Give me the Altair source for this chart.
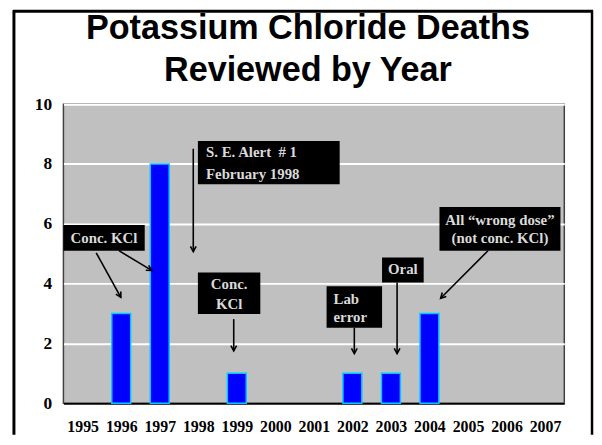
import altair as alt
import pandas as pd
import math

# ---- data ----
years = list(range(1995, 2008))
deaths = [0, 3, 8, 0, 1, 0, 0, 1, 1, 3, 0, 0, 0]

# annotation boxes (data units)
box_x0 = [1994.5, 1997.99, 1997.99, 2001.33, 2002.77, 2004.26]
box_x1 = [1996.61, 2001.67, 1999.61, 2002.77, 2003.85, 2007.40]
box_y0 = [5.10, 7.32, 2.98, 2.52, 4.04, 5.10]
box_y1 = [5.96, 8.77, 4.37, 3.91, 4.87, 6.56]

# annotation texts
txt_text = ["Conc. KCl", "S. E. Alert\u00a0\u00a0# 1", "February 1998", "Conc.", "KCl",
            "Lab", "error", "Oral", "All \u201cwrong dose\u201d", "(not conc. KCl)"]
txt_x = [1995.55, 1998.20, 1998.20, 1998.80, 1998.80, 2001.51, 2001.51, 2003.31, 2005.83, 2005.83]
txt_y = [5.53, 8.41, 7.68, 3.97, 3.31, 3.48, 2.88, 4.47, 6.13, 5.53]
txt_align = ["center", "left", "left", "center", "center", "left", "left", "center", "center", "center"]

# arrows (from -> to, data units)
arr_x0 = [1995.35, 1995.94, 1997.87, 1998.92, 2002.05, 2003.16, 2005.52]
arr_y0 = [5.03, 5.10, 8.51, 2.81, 2.52, 4.04, 5.10]
arr_x1 = [1995.99, 1996.79, 1997.87, 1998.92, 2002.05, 2003.16, 2004.29]
arr_y1 = [3.54, 4.44, 5.07, 1.75, 1.66, 1.66, 3.51]

title_lines = ["Potassium Chloride Deaths", "Reviewed by Year"]

# ---- layout ----
W, H = 506, 302
XMIN, XMAX = 1994.5, 2007.5
px_x = W / (XMAX - XMIN)
px_y = H / 10.0

bars_df = pd.DataFrame({"year": years, "deaths": deaths})
box_df = pd.DataFrame({"x0": box_x0, "x1": box_x1, "y0": box_y0, "y1": box_y1})
txt_df = pd.DataFrame({"t": txt_text, "x": txt_x, "y": txt_y, "a": txt_align})
arr_df = pd.DataFrame({"x0": arr_x0, "y0": arr_y0, "x1": arr_x1, "y1": arr_y1})
arr_df["angle"] = [
    (math.degrees(math.atan2((b - a) * px_x, (d - c) * px_y)) + 360) % 360
    for a, c, b, d in zip(arr_x0, arr_y0, arr_x1, arr_y1)
]

serif = "Liberation Serif"
xscale = alt.Scale(domain=[XMIN, XMAX], nice=False, zero=False)
yscale = alt.Scale(domain=[0, 10], nice=False)
xaxis = alt.Axis(values=years, format="d", title=None, grid=False, ticks=False,
                 labelFont=serif, labelFontWeight="bold", labelFontSize=16,
                 labelColor="black", labelPadding=16, domainColor="black",
                 domainWidth=2, labelFlush=False)
yaxis = alt.Axis(values=[0, 2, 4, 6, 8, 10], title=None, ticks=False, domain=False,
                 labelFont=serif, labelFontWeight="bold", labelFontSize=17.5,
                 labelColor="black", labelPadding=12, gridColor="white",
                 gridWidth=2, gridOpacity=1)


def X(f):
    return alt.X(f, type="quantitative", scale=xscale, axis=xaxis)


def Y(f):
    return alt.Y(f, type="quantitative", scale=yscale, axis=yaxis)


bars = alt.Chart(bars_df).transform_filter("datum.deaths > 0").transform_calculate(
    xa="datum.year - 0.245", xb="datum.year + 0.245"
).mark_bar(color="#0000FF", stroke="#00C8FF", strokeWidth=1.5).encode(
    x=X("xa"), x2="xb", y=Y("deaths"), y2=alt.datum(0)
)

boxes = alt.Chart(box_df).mark_rect(color="black").encode(
    x=X("x0"), x2="x1", y=Y("y0"), y2="y1"
)


def text_layer(al):
    return alt.Chart(txt_df).transform_filter(f"datum.a == '{al}'").mark_text(
        font=serif, fontWeight="bold", fontSize=15, color="#DADADA",
        baseline="middle", align=al
    ).encode(x=X("x"), y=Y("y"), text="t:N")


texts_c = text_layer("center")
texts_l = text_layer("left")

lines = alt.Chart(arr_df).mark_rule(color="black", strokeWidth=1.6).encode(
    x=X("x0"), x2="x1", y=Y("y0"), y2="y1"
)

heads = alt.Chart(arr_df).mark_point(
    shape="M-0.55,1 L0,0 L0.55,1", filled=False, stroke="black", strokeWidth=1.6,
    size=110, opacity=1
).encode(x=X("x1"), y=Y("y1"), angle=alt.Angle("angle:Q", scale=None))

one = alt.Data(values=[{"k": 1}])
title_mark = alt.Chart(one).mark_text(
    text=title_lines, font="Liberation Sans", fontSize=34.5, fontWeight="bold",
    lineHeight=43, align="center", baseline="alphabetic", color="black"
).encode(x=alt.value(W / 2 - 6), y=alt.value(-66))

frame_left = alt.Chart(one).mark_rule(color="black", strokeWidth=3).encode(
    x=alt.value(-50), y=alt.value(-95), y2=alt.value(H + 32)
)
frame_top = alt.Chart(one).mark_rule(color="black", strokeWidth=3).encode(
    x=alt.value(-51), x2=alt.value(W + 29), y=alt.value(-94)
)
frame_right = alt.Chart(one).mark_rule(color="black", strokeWidth=2.5).encode(
    x=alt.value(W + 28), y=alt.value(-95), y2=alt.value(H + 32)
)

chart = alt.layer(
    bars, boxes, texts_c, texts_l, lines, heads, title_mark,
    frame_left, frame_top, frame_right
).properties(
    width=W, height=H,
    autosize=alt.AutoSizeParams(type="none"),
    padding={"left": 56, "top": 95, "right": 30, "bottom": 32},
    background="white",
).configure_view(
    fill="#C0C0C0", stroke="#404040", strokeWidth=1.5
)

chart.save("out.html", embed_options={"renderer": "svg", "actions": False})
